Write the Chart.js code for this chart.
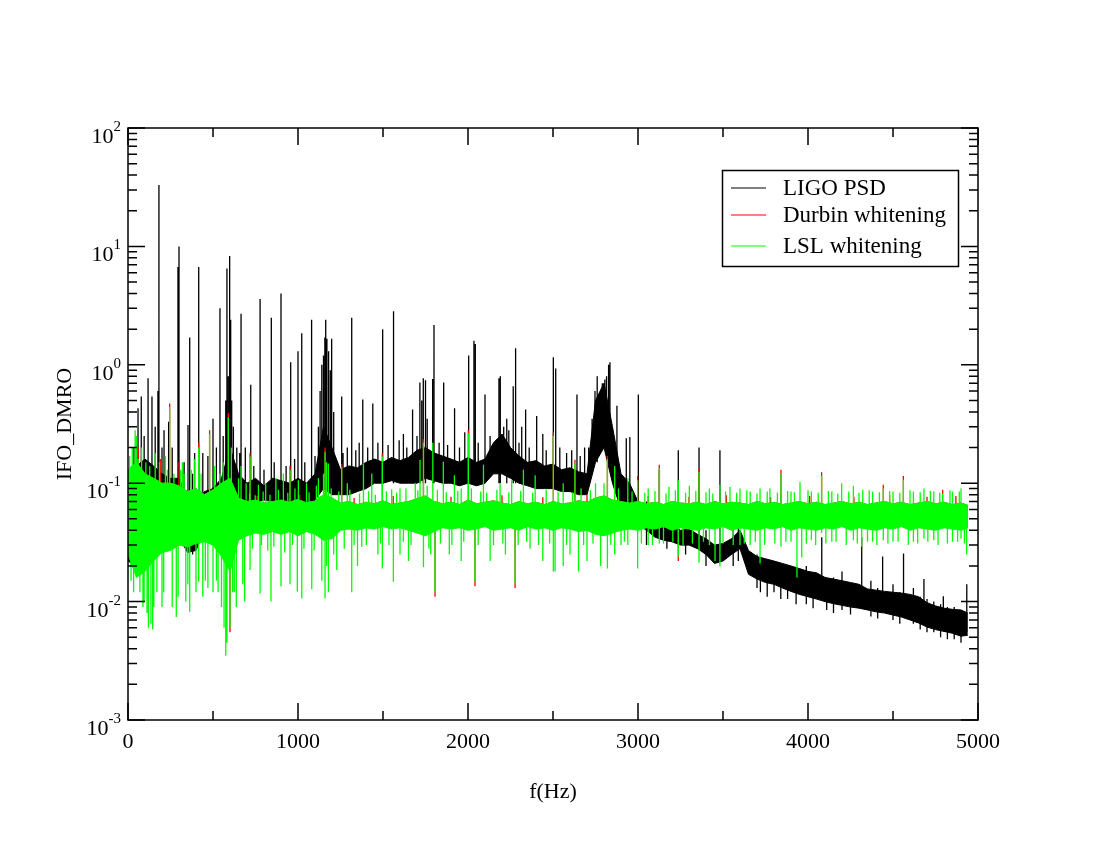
<!DOCTYPE html>
<html>
<head>
<meta charset="utf-8">
<script src="https://cdn.jsdelivr.net/npm/chart.js@4.4.1/dist/chart.umd.min.js"></script>
<style>
  html, body { margin: 0; padding: 0; background: #fff; }
  #wrap { width: 1100px; height: 850px; }
</style>
</head>
<body>
<div id="wrap"><canvas id="psd"></canvas></div>
<script>
// frequency grid (Hz) for the noise bands
const bandFreqs = [
  0, 50, 100, 150, 200, 250, 300, 350, 400, 450,
  500, 550, 600, 650, 700, 750, 800, 850, 900, 950,
  1000, 1050, 1100, 1150, 1200, 1250, 1300, 1350, 1400, 1450,
  1500, 1550, 1600, 1650, 1700, 1750, 1800, 1850, 1900, 1950,
  2000, 2050, 2100, 2150, 2200, 2250, 2300, 2350, 2400, 2450,
  2500, 2550, 2600, 2650, 2700, 2750, 2800, 2850, 2900, 2950,
  3000, 3050, 3100, 3150, 3200, 3250, 3300, 3350, 3400, 3450,
  3500, 3550, 3600, 3650, 3700, 3750, 3800, 3850, 3900, 3950,
  4000, 4050, 4100, 4150, 4200, 4250, 4300, 4350, 4400, 4450,
  4500, 4550, 4600, 4650, 4700, 4750, 4800, 4850, 4900, 4940
];

// LIGO PSD band (top / bottom of the noise)
const ligoUpper = [
  0.08, 0.14, 0.16, 0.14, 0.12, 0.11, 0.11, 0.075, 0.07, 0.085,
  0.09, 0.11, 0.2, 0.12, 0.1, 0.11, 0.095, 0.11, 0.105, 0.1,
  0.11, 0.1, 0.12, 0.3, 0.2, 0.13, 0.14, 0.135, 0.15, 0.16,
  0.15, 0.165, 0.155, 0.165, 0.19, 0.2, 0.18, 0.17, 0.16, 0.15,
  0.165, 0.15, 0.16, 0.22, 0.26, 0.2, 0.17, 0.15, 0.155, 0.14,
  0.145, 0.13, 0.135, 0.125, 0.12, 0.5, 0.7, 0.3, 0.12, 0.1,
  0.07, 0.055, 0.05, 0.048, 0.045, 0.04, 0.041, 0.037, 0.034, 0.03,
  0.031, 0.034, 0.04, 0.027, 0.024, 0.023, 0.022, 0.021, 0.02, 0.019,
  0.018, 0.0175, 0.016, 0.0155, 0.015, 0.0145, 0.014, 0.0128, 0.0125, 0.0122,
  0.012, 0.0118, 0.0115, 0.011, 0.0098, 0.0092, 0.0088, 0.0086, 0.0085, 0.008
];
const ligoLower = [
  0.022, 0.02, 0.02, 0.028, 0.035, 0.04, 0.035, 0.026, 0.027, 0.04,
  0.045, 0.045, 0.06, 0.05, 0.07, 0.07, 0.072, 0.07, 0.072, 0.07,
  0.072, 0.07, 0.072, 0.09, 0.08, 0.08, 0.08, 0.085, 0.09, 0.1,
  0.1, 0.105, 0.1, 0.1, 0.1, 0.11, 0.105, 0.1, 0.1, 0.095,
  0.1, 0.095, 0.1, 0.12, 0.12, 0.11, 0.1, 0.095, 0.09, 0.09,
  0.09, 0.085, 0.085, 0.08, 0.08, 0.15, 0.2, 0.1, 0.06, 0.055,
  0.045, 0.04, 0.035, 0.033, 0.032, 0.03, 0.03, 0.028, 0.025, 0.021,
  0.022, 0.025, 0.028, 0.017, 0.0155, 0.0145, 0.014, 0.013, 0.0122, 0.0115,
  0.011, 0.0105, 0.01, 0.0096, 0.0093, 0.009, 0.0088, 0.0085, 0.0082, 0.008,
  0.0077, 0.0074, 0.007, 0.0066, 0.0061, 0.0058, 0.0056, 0.0054, 0.0051, 0.0052
];

// Durbin whitening band (almost entirely under the LSL band)
const durbinUpper = [
  0.13, 0.15, 0.12, 0.11, 0.1, 0.1, 0.095, 0.085, 0.09, 0.08,
  0.088, 0.1, 0.11, 0.075, 0.07, 0.072, 0.068, 0.07, 0.072, 0.069,
  0.073, 0.068, 0.07, 0.08, 0.075, 0.068, 0.07, 0.066, 0.069, 0.067,
  0.071, 0.066, 0.068, 0.07, 0.074, 0.078, 0.07, 0.067, 0.069, 0.066,
  0.072, 0.067, 0.069, 0.071, 0.068, 0.066, 0.07, 0.067, 0.069, 0.066,
  0.07, 0.067, 0.068, 0.071, 0.069, 0.075, 0.078, 0.072, 0.07, 0.068,
  0.07, 0.067, 0.069, 0.066, 0.07, 0.068, 0.067, 0.069, 0.066, 0.07,
  0.067, 0.069, 0.068, 0.066, 0.07, 0.067, 0.069, 0.066, 0.068, 0.07,
  0.067, 0.069, 0.066, 0.068, 0.07, 0.067, 0.069, 0.066, 0.068, 0.07,
  0.067, 0.069, 0.066, 0.068, 0.07, 0.067, 0.069, 0.066, 0.068, 0.065
];
const durbinLower = [
  0.026, 0.017, 0.019, 0.023, 0.027, 0.028, 0.031, 0.03, 0.032, 0.033,
  0.031, 0.025, 0.019, 0.034, 0.037, 0.039, 0.038, 0.04, 0.038, 0.04,
  0.037, 0.04, 0.038, 0.034, 0.035, 0.041, 0.042, 0.041, 0.043, 0.042,
  0.044, 0.042, 0.043, 0.041, 0.039, 0.037, 0.04, 0.043, 0.042, 0.043,
  0.041, 0.042, 0.044, 0.041, 0.042, 0.043, 0.041, 0.044, 0.042, 0.043,
  0.041, 0.043, 0.042, 0.04, 0.041, 0.038, 0.037, 0.039, 0.041, 0.042,
  0.041, 0.043, 0.042, 0.044, 0.041, 0.043, 0.042, 0.041, 0.043, 0.042,
  0.044, 0.041, 0.043, 0.042, 0.041, 0.043, 0.042, 0.044, 0.041, 0.043,
  0.042, 0.041, 0.043, 0.042, 0.044, 0.041, 0.043, 0.042, 0.041, 0.043,
  0.042, 0.044, 0.041, 0.043, 0.042, 0.041, 0.043, 0.042, 0.041, 0.043
];

// LSL whitening band
const lslUpper = [
  0.13, 0.15, 0.12, 0.11, 0.1, 0.1, 0.095, 0.085, 0.09, 0.08,
  0.088, 0.1, 0.11, 0.075, 0.07, 0.072, 0.068, 0.07, 0.072, 0.069,
  0.073, 0.068, 0.07, 0.08, 0.075, 0.068, 0.07, 0.066, 0.069, 0.067,
  0.071, 0.066, 0.068, 0.07, 0.074, 0.078, 0.07, 0.067, 0.069, 0.066,
  0.072, 0.067, 0.069, 0.071, 0.068, 0.066, 0.07, 0.067, 0.069, 0.066,
  0.07, 0.067, 0.068, 0.071, 0.069, 0.075, 0.078, 0.072, 0.07, 0.068,
  0.07, 0.067, 0.069, 0.066, 0.07, 0.068, 0.067, 0.069, 0.066, 0.07,
  0.067, 0.069, 0.068, 0.066, 0.07, 0.067, 0.069, 0.066, 0.068, 0.07,
  0.067, 0.069, 0.066, 0.068, 0.07, 0.067, 0.069, 0.066, 0.068, 0.07,
  0.067, 0.069, 0.066, 0.068, 0.07, 0.067, 0.069, 0.066, 0.068, 0.065
];
const lslLower = [
  0.025, 0.016, 0.018, 0.022, 0.026, 0.027, 0.03, 0.029, 0.031, 0.032,
  0.03, 0.024, 0.018, 0.033, 0.036, 0.038, 0.037, 0.039, 0.037, 0.039,
  0.036, 0.039, 0.037, 0.033, 0.034, 0.04, 0.041, 0.04, 0.042, 0.041,
  0.043, 0.041, 0.042, 0.04, 0.038, 0.036, 0.039, 0.042, 0.041, 0.042,
  0.04, 0.041, 0.043, 0.04, 0.041, 0.042, 0.04, 0.043, 0.041, 0.042,
  0.04, 0.042, 0.041, 0.039, 0.04, 0.037, 0.036, 0.038, 0.04, 0.041,
  0.04, 0.042, 0.041, 0.043, 0.04, 0.042, 0.041, 0.04, 0.042, 0.041,
  0.043, 0.04, 0.042, 0.041, 0.04, 0.042, 0.041, 0.043, 0.04, 0.042,
  0.041, 0.04, 0.042, 0.041, 0.043, 0.04, 0.042, 0.041, 0.04, 0.042,
  0.041, 0.043, 0.04, 0.042, 0.041, 0.04, 0.042, 0.041, 0.04, 0.042
];

// narrow lines: [frequency, low, high]
const ligoSpikes = [
  [20, 0.02, 0.12], [35, 0.02, 0.2], [59, 0.08, 0.43], [78, 0.08, 0.54], [95, 0.03, 0.25],
  [118, 0.08, 0.77], [141, 0.08, 0.54], [160, 0.05, 0.3], [176, 0.08, 0.6], [182, 0.06, 33],
  [200, 0.05, 0.2], [212, 0.08, 0.28], [239, 0.08, 0.33], [260, 0.05, 0.2], [294, 0.07, 6.7],
  [300, 0.07, 10], [330, 0.04, 0.15], [353, 0.05, 0.31], [363, 0.05, 1.7], [380, 0.025, 0.12],
  [392, 0.05, 0.18], [416, 0.05, 6.7], [440, 0.04, 0.18], [470, 0.05, 0.17], [500, 0.06, 0.35],
  [520, 0.05, 0.2], [541, 0.06, 3.0], [560, 0.05, 0.25], [575, 0.06, 0.5], [582, 0.08, 6.5],
  [590, 0.08, 0.8], [598, 0.08, 8.3], [604, 0.08, 2.4], [610, 0.06, 0.5], [620, 0.06, 0.3],
  [640, 0.06, 0.2], [657, 0.07, 0.18], [665, 0.07, 2.7], [690, 0.06, 0.2], [722, 0.07, 0.68],
  [740, 0.09, 0.14], [777, 0.07, 3.6], [800, 0.09, 0.13], [843, 0.07, 2.5], [860, 0.09, 0.15],
  [900, 0.07, 4.0], [930, 0.09, 0.14], [957, 0.07, 1.05], [980, 0.09, 0.16], [1000, 0.07, 1.3],
  [1022, 0.07, 1.85], [1040, 0.09, 0.15], [1080, 0.07, 2.4], [1100, 0.1, 0.17], [1120, 0.1, 0.3],
  [1130, 0.1, 0.6], [1140, 0.1, 1.0], [1150, 0.1, 1.2], [1158, 0.1, 1.7], [1163, 0.1, 2.4],
  [1170, 0.1, 1.66], [1180, 0.1, 1.3], [1190, 0.1, 0.9], [1198, 0.1, 1.66], [1210, 0.1, 0.4],
  [1257, 0.09, 0.54], [1265, 0.12, 0.18], [1290, 0.12, 0.2], [1316, 0.09, 2.5], [1340, 0.12, 0.19],
  [1360, 0.12, 0.22], [1381, 0.1, 0.51], [1410, 0.13, 0.2], [1440, 0.1, 0.47], [1470, 0.13, 0.22],
  [1498, 0.1, 2.0], [1530, 0.14, 0.21], [1562, 0.1, 2.84], [1595, 0.14, 0.23], [1620, 0.1, 0.26],
  [1640, 0.14, 0.2], [1674, 0.1, 0.42], [1700, 0.14, 0.25], [1717, 0.1, 0.71], [1728, 0.14, 0.5],
  [1737, 0.1, 0.77], [1750, 0.1, 0.74], [1760, 0.14, 0.35], [1792, 0.1, 0.76], [1800, 0.1, 2.17],
  [1830, 0.14, 0.22], [1857, 0.1, 0.71], [1880, 0.14, 0.21], [1921, 0.1, 0.43], [1950, 0.13, 0.2],
  [1981, 0.1, 0.27], [2004, 0.1, 1.2], [2035, 0.1, 1.6], [2043, 0.1, 1.5], [2060, 0.13, 0.22],
  [2100, 0.1, 0.56], [2130, 0.14, 0.25], [2182, 0.1, 0.77], [2190, 0.1, 0.8], [2210, 0.15, 0.3],
  [2228, 0.1, 0.35], [2240, 0.15, 0.28], [2266, 0.1, 0.66], [2280, 0.1, 1.38], [2300, 0.13, 0.22],
  [2316, 0.1, 0.3], [2339, 0.1, 0.42], [2360, 0.13, 0.2], [2404, 0.1, 0.37], [2440, 0.1, 0.26],
  [2460, 0.12, 0.19], [2502, 0.1, 1.16], [2516, 0.1, 0.93], [2540, 0.12, 0.2], [2580, 0.11, 0.18],
  [2610, 0.11, 0.19], [2641, 0.09, 0.56], [2660, 0.11, 0.17], [2686, 0.09, 0.2], [2710, 0.11, 0.2],
  [2730, 0.12, 0.35], [2747, 0.15, 0.6], [2760, 0.15, 0.8], [2790, 0.3, 0.7], [2805, 0.3, 0.75],
  [2815, 0.3, 0.8], [2827, 0.2, 1.0], [2835, 0.2, 1.05], [2876, 0.08, 0.45], [2931, 0.06, 0.24],
  [2952, 0.06, 0.245], [3002, 0.05, 0.56], [3050, 0.03, 0.07], [3126, 0.04, 0.13], [3170, 0.028, 0.05],
  [3237, 0.035, 0.19], [3280, 0.025, 0.045], [3359, 0.03, 0.2], [3400, 0.02, 0.04], [3482, 0.025, 0.19],
  [3560, 0.02, 0.05], [3590, 0.022, 0.055], [3700, 0.013, 0.025], [3720, 0.012, 0.02], [3760, 0.011, 0.018],
  [3800, 0.012, 0.022], [3840, 0.0105, 0.018], [3880, 0.0105, 0.02], [3930, 0.0095, 0.017], [3990, 0.0095, 0.02],
  [4030, 0.0088, 0.016], [4081, 0.011, 0.035], [4110, 0.0085, 0.015], [4150, 0.008, 0.016], [4200, 0.0085, 0.018],
  [4250, 0.0078, 0.014], [4316, 0.0095, 0.035], [4370, 0.0075, 0.015], [4410, 0.0072, 0.013], [4439, 0.009, 0.024],
  [4500, 0.007, 0.014], [4540, 0.0065, 0.012], [4562, 0.008, 0.0255], [4620, 0.0065, 0.013], [4660, 0.0058, 0.011],
  [4682, 0.007, 0.0155], [4700, 0.0055, 0.0105], [4740, 0.0055, 0.01], [4780, 0.005, 0.0095], [4796, 0.006, 0.0111],
  [4820, 0.0048, 0.009], [4860, 0.0048, 0.009], [4900, 0.0045, 0.0085], [4934, 0.0055, 0.014]
];

const durbinSpikes = [
  [60, 0.05, 0.2], [190, 0.05, 0.16], [245, 0.05, 0.47], [300, 0.05, 0.15], [416, 0.05, 0.22],
  [480, 0.05, 0.28], [590, 0.05, 0.39], [600, 0.0055, 0.05], [718, 0.05, 0.18], [760, 0.06, 0.078],
  [953, 0.05, 0.14], [1010, 0.06, 0.08], [1159, 0.05, 0.2], [1257, 0.05, 0.145], [1330, 0.06, 0.075],
  [1496, 0.05, 0.18], [1560, 0.06, 0.078], [1738, 0.05, 0.235], [1806, 0.011, 0.05], [1900, 0.06, 0.077],
  [2002, 0.05, 0.28], [2041, 0.0135, 0.05], [2200, 0.06, 0.079], [2277, 0.013, 0.05], [2440, 0.06, 0.076],
  [2502, 0.05, 0.27], [2629, 0.05, 0.158], [2700, 0.06, 0.08], [2820, 0.05, 0.17], [2998, 0.05, 0.115],
  [3060, 0.06, 0.078], [3125, 0.05, 0.143], [3237, 0.022, 0.05], [3300, 0.06, 0.077], [3359, 0.05, 0.134],
  [3520, 0.06, 0.079], [3780, 0.06, 0.076], [3841, 0.05, 0.13], [4010, 0.06, 0.078], [4080, 0.05, 0.124],
  [4270, 0.06, 0.077], [4443, 0.05, 0.097], [4480, 0.06, 0.079], [4561, 0.05, 0.115], [4700, 0.06, 0.077],
  [4792, 0.05, 0.088], [4870, 0.06, 0.078]
];

const lslSpikes = [
  [10, 0.05, 0.17], [18, 0.015, 0.05], [25, 0.05, 0.2], [33, 0.012, 0.05], [42, 0.05, 0.28],
  [50, 0.05, 0.25], [60, 0.05, 0.16], [70, 0.012, 0.05], [80, 0.05, 0.2], [88, 0.009, 0.05],
  [95, 0.01, 0.05], [105, 0.05, 0.15], [112, 0.008, 0.05], [120, 0.006, 0.05], [128, 0.05, 0.14],
  [135, 0.0065, 0.05], [145, 0.0058, 0.05], [152, 0.009, 0.05], [160, 0.05, 0.18], [170, 0.012, 0.05],
  [185, 0.05, 0.15], [200, 0.009, 0.05], [210, 0.012, 0.05], [220, 0.05, 0.17], [232, 0.05, 0.13],
  [245, 0.05, 0.44], [260, 0.009, 0.05], [270, 0.05, 0.12], [284, 0.0074, 0.05], [295, 0.011, 0.05],
  [310, 0.05, 0.13], [320, 0.05, 0.15], [330, 0.05, 0.12], [340, 0.01, 0.05], [352, 0.014, 0.05],
  [363, 0.0082, 0.05], [372, 0.05, 0.13], [390, 0.05, 0.16], [400, 0.012, 0.05], [416, 0.0147, 0.2],
  [430, 0.05, 0.12], [440, 0.011, 0.05], [455, 0.015, 0.05], [470, 0.013, 0.05], [480, 0.05, 0.26],
  [500, 0.012, 0.05], [510, 0.05, 0.14], [520, 0.015, 0.05], [530, 0.012, 0.05], [540, 0.05, 0.12],
  [550, 0.009, 0.05], [560, 0.05, 0.15], [565, 0.006, 0.05], [575, 0.0035, 0.05], [582, 0.0045, 0.06],
  [590, 0.05, 0.36], [600, 0.006, 0.05], [608, 0.05, 0.2], [615, 0.012, 0.05], [625, 0.012, 0.05],
  [637, 0.009, 0.05], [650, 0.05, 0.11], [665, 0.05, 0.14], [675, 0.014, 0.05], [686, 0.01, 0.05],
  [695, 0.05, 0.1], [718, 0.0185, 0.168], [767, 0.05, 0.097], [777, 0.0117, 0.05], [810, 0.05, 0.1],
  [841, 0.01, 0.05], [870, 0.05, 0.11], [900, 0.0135, 0.05], [914, 0.05, 0.121], [953, 0.014, 0.13],
  [996, 0.0122, 0.05], [1002, 0.05, 0.106], [1022, 0.0106, 0.05], [1050, 0.05, 0.1], [1081, 0.0127, 0.05],
  [1120, 0.05, 0.11], [1140, 0.015, 0.05], [1150, 0.05, 0.12], [1159, 0.0106, 0.184], [1168, 0.02, 0.15],
  [1179, 0.012, 0.147], [1228, 0.0185, 0.05], [1257, 0.05, 0.137], [1290, 0.05, 0.1], [1316, 0.012, 0.05],
  [1350, 0.02, 0.05], [1375, 0.029, 0.05], [1385, 0.05, 0.147], [1434, 0.05, 0.121], [1470, 0.025, 0.05],
  [1496, 0.019, 0.168], [1551, 0.05, 0.089], [1561, 0.0147, 0.05], [1600, 0.025, 0.09], [1650, 0.022, 0.05],
  [1690, 0.05, 0.1], [1718, 0.05, 0.157], [1738, 0.0196, 0.22], [1781, 0.025, 0.05], [1793, 0.05, 0.22],
  [1806, 0.012, 0.05], [1855, 0.05, 0.152], [1890, 0.025, 0.05], [1920, 0.05, 0.117], [1960, 0.022, 0.09],
  [2002, 0.05, 0.264], [2041, 0.0147, 0.05], [2091, 0.05, 0.143], [2130, 0.022, 0.05], [2189, 0.05, 0.1],
  [2220, 0.025, 0.05], [2257, 0.05, 0.106], [2277, 0.0142, 0.05], [2326, 0.05, 0.13], [2365, 0.028, 0.05],
  [2395, 0.05, 0.117], [2440, 0.022, 0.05], [2502, 0.018, 0.25], [2512, 0.018, 0.05], [2560, 0.02, 0.1],
  [2600, 0.025, 0.05], [2629, 0.05, 0.148], [2650, 0.018, 0.05], [2700, 0.022, 0.05], [2750, 0.05, 0.1],
  [2780, 0.02, 0.05], [2820, 0.019, 0.16], [2863, 0.025, 0.14], [2900, 0.03, 0.05], [2940, 0.03, 0.11],
  [2998, 0.019, 0.106], [3060, 0.03, 0.09], [3125, 0.031, 0.134], [3182, 0.05, 0.093], [3237, 0.024, 0.106],
  [3302, 0.05, 0.095], [3359, 0.0213, 0.125], [3420, 0.03, 0.09], [3453, 0.022, 0.05], [3482, 0.0198, 0.097],
  [3541, 0.05, 0.093], [3600, 0.03, 0.09], [3660, 0.03, 0.085], [3718, 0.021, 0.09], [3776, 0.05, 0.09],
  [3841, 0.029, 0.12], [3900, 0.032, 0.085], [3935, 0.016, 0.05], [3953, 0.05, 0.103], [3963, 0.0236, 0.05],
  [4020, 0.033, 0.085], [4080, 0.038, 0.115], [4140, 0.032, 0.085], [4198, 0.05, 0.1], [4267, 0.033, 0.095],
  [4316, 0.029, 0.05], [4322, 0.05, 0.088], [4380, 0.032, 0.085], [4443, 0.033, 0.09], [4500, 0.032, 0.085],
  [4561, 0.05, 0.107], [4620, 0.032, 0.085], [4682, 0.034, 0.09], [4740, 0.033, 0.085], [4792, 0.05, 0.082],
  [4850, 0.032, 0.085], [4900, 0.034, 0.09], [4933, 0.025, 0.05]
];

// short flecks that make the LSL band edge ragged: [frequency, low, high]
const lslFlecks = [
  [715, 0.06, 0.082], [732, 0.028, 0.05], [748, 0.06, 0.079], [785, 0.03, 0.05], [795, 0.06, 0.085],
  [822, 0.027, 0.05], [835, 0.06, 0.08], [858, 0.029, 0.05], [885, 0.06, 0.088], [922, 0.026, 0.05],
  [940, 0.06, 0.083], [968, 0.03, 0.05], [982, 0.06, 0.09], [1035, 0.028, 0.05], [1065, 0.06, 0.084],
  [1095, 0.027, 0.05], [1108, 0.06, 0.095], [1195, 0.06, 0.09], [1210, 0.025, 0.05], [1240, 0.06, 0.085],
  [1272, 0.028, 0.05], [1305, 0.06, 0.088], [1330, 0.03, 0.05], [1362, 0.06, 0.082], [1402, 0.03, 0.05],
  [1415, 0.06, 0.086], [1455, 0.06, 0.08], [1485, 0.031, 0.05], [1520, 0.06, 0.085], [1535, 0.03, 0.05],
  [1580, 0.06, 0.083], [1620, 0.032, 0.05], [1635, 0.06, 0.09], [1665, 0.03, 0.05], [1705, 0.06, 0.087],
  [1760, 0.06, 0.095], [1770, 0.028, 0.05], [1820, 0.06, 0.088], [1838, 0.031, 0.05], [1872, 0.06, 0.084],
  [1905, 0.03, 0.05], [1940, 0.06, 0.086], [1975, 0.032, 0.05], [2020, 0.06, 0.09], [2060, 0.03, 0.05],
  [2075, 0.06, 0.085], [2110, 0.06, 0.083], [2150, 0.03, 0.05], [2170, 0.06, 0.088], [2205, 0.031, 0.05],
  [2240, 0.06, 0.084], [2295, 0.03, 0.05], [2310, 0.06, 0.086], [2345, 0.032, 0.05], [2380, 0.06, 0.083],
  [2415, 0.03, 0.05], [2460, 0.06, 0.088], [2480, 0.031, 0.05], [2530, 0.06, 0.085], [2580, 0.03, 0.05],
  [2615, 0.06, 0.084], [2665, 0.06, 0.09], [2680, 0.03, 0.05], [2720, 0.06, 0.087], [2735, 0.031, 0.05],
  [2800, 0.06, 0.1], [2840, 0.03, 0.05], [2885, 0.06, 0.09], [2920, 0.032, 0.05], [2965, 0.06, 0.085],
  [3020, 0.031, 0.05], [3040, 0.06, 0.083], [3085, 0.03, 0.05], [3100, 0.06, 0.086], [3150, 0.031, 0.05],
  [3165, 0.06, 0.082], [3205, 0.032, 0.05], [3220, 0.06, 0.087], [3265, 0.03, 0.05], [3280, 0.06, 0.083],
  [3320, 0.031, 0.05], [3340, 0.06, 0.086], [3385, 0.032, 0.05], [3400, 0.06, 0.084], [3440, 0.06, 0.082],
  [3500, 0.031, 0.05], [3515, 0.06, 0.085], [3560, 0.03, 0.05], [3580, 0.06, 0.083], [3625, 0.031, 0.05],
  [3640, 0.06, 0.087], [3690, 0.032, 0.05], [3700, 0.06, 0.082], [3745, 0.03, 0.05], [3760, 0.06, 0.085],
  [3805, 0.031, 0.05], [3820, 0.06, 0.083], [3870, 0.032, 0.05], [3880, 0.06, 0.086], [3920, 0.06, 0.084],
  [3990, 0.031, 0.05], [4000, 0.06, 0.087], [4045, 0.03, 0.05], [4060, 0.06, 0.083], [4105, 0.031, 0.05],
  [4120, 0.06, 0.086], [4165, 0.032, 0.05], [4175, 0.06, 0.082], [4225, 0.03, 0.05], [4240, 0.06, 0.085],
  [4290, 0.031, 0.05], [4300, 0.06, 0.083], [4350, 0.032, 0.05], [4360, 0.06, 0.087], [4405, 0.03, 0.05],
  [4420, 0.06, 0.084], [4470, 0.031, 0.05], [4480, 0.06, 0.086], [4530, 0.032, 0.05], [4540, 0.06, 0.083],
  [4590, 0.03, 0.05], [4600, 0.06, 0.087], [4645, 0.031, 0.05], [4660, 0.06, 0.084], [4705, 0.032, 0.05],
  [4720, 0.06, 0.086], [4765, 0.03, 0.05], [4775, 0.06, 0.083], [4820, 0.031, 0.05], [4835, 0.06, 0.087],
  [4880, 0.032, 0.05], [4890, 0.06, 0.085], [4920, 0.031, 0.05]
];

const seriesNames = ['LIGO PSD', 'Durbin whitening', 'LSL whitening'];
const seriesColors = ['#000000', '#ff0000', '#00ff00'];
const xTickLabels = ['0', '1000', '2000', '3000', '4000', '5000'];
const yTickExponents = ['-3', '-2', '-1', '0', '1', '2'];

function bandPoints(values) {
  return bandFreqs.map((f, i) => ({ x: f, y: values[i] }));
}

function spikePoints(spikes) {
  return spikes.flatMap(([f, lo, hi]) => [{ x: f, y: lo }, { x: f, y: hi }, { x: f, y: null }]);
}

function lineSet(label, spikes, color, order) {
  return { label, data: spikePoints(spikes), borderColor: color,
    borderWidth: 1.3, pointRadius: 0, fill: false, spanGaps: false, order };
}

function bandDatasets(name, color, upper, lower, spikes, order) {
  return [
    { label: name, data: bandPoints(upper), borderColor: color, backgroundColor: color,
      borderWidth: 1, pointRadius: 0, fill: '+1', order },
    { label: name + ' low', data: bandPoints(lower), borderColor: color, backgroundColor: color,
      borderWidth: 1, pointRadius: 0, fill: false, order },
    lineSet(name + ' lines', spikes, color, order)
  ];
}

const serif = '"Liberation Serif", "DejaVu Serif", serif';

// frame, inward ticks, labels and legend in the xmgrace style
const graceFrame = {
  id: 'graceFrame',
  afterDraw(chart) {
    const { ctx, chartArea: a, scales: { x, y } } = chart;
    ctx.save();
    ctx.strokeStyle = '#000';
    ctx.fillStyle = '#000';
    ctx.lineWidth = 1.5;
    ctx.strokeRect(a.left, a.top, a.right - a.left, a.bottom - a.top);

    ctx.beginPath();
    for (let v = 0; v <= 5000; v += 500) {
      const px = x.getPixelForValue(v);
      const len = v % 1000 === 0 ? 17 : 9;
      ctx.moveTo(px, a.bottom); ctx.lineTo(px, a.bottom - len);
      ctx.moveTo(px, a.top); ctx.lineTo(px, a.top + len);
    }
    for (let e = -3; e <= 2; e++) {
      for (let m = 1; m <= 9; m++) {
        if (e === 2 && m > 1) break;
        const py = y.getPixelForValue(m * Math.pow(10, e));
        const len = m === 1 ? 17 : 9;
        ctx.moveTo(a.left, py); ctx.lineTo(a.left + len, py);
        ctx.moveTo(a.right, py); ctx.lineTo(a.right - len, py);
      }
    }
    ctx.stroke();

    ctx.font = '22px ' + serif;
    ctx.textAlign = 'center';
    ctx.textBaseline = 'alphabetic';
    xTickLabels.forEach(lbl => {
      ctx.fillText(lbl, x.getPixelForValue(Number(lbl)), a.bottom + 28);
    });

    yTickExponents.forEach(exp => {
      const py = y.getPixelForValue(Math.pow(10, Number(exp)));
      ctx.font = '15px ' + serif;
      ctx.textAlign = 'right';
      const supRight = a.left - 7;
      ctx.fillText(exp, supRight, py + 3);
      const supW = ctx.measureText(exp).width;
      ctx.font = '22px ' + serif;
      ctx.fillText('10', supRight - supW, py + 15);
    });

    ctx.font = '22px ' + serif;
    ctx.textAlign = 'center';
    ctx.fillText('f(Hz)', (a.left + a.right) / 2, a.bottom + 78);

    ctx.save();
    ctx.translate(65, (a.top + a.bottom) / 2);
    ctx.rotate(-Math.PI / 2);
    ctx.textBaseline = 'middle';
    ctx.fillText('IFO_DMRO', 0, 0);
    ctx.restore();

    // legend
    ctx.lineWidth = 1.5;
    ctx.strokeRect(722.5, 170.5, 236, 96);
    const rows = [188, 215, 246];
    ctx.font = '23px ' + serif;
    ctx.textAlign = 'left';
    ctx.textBaseline = 'middle';
    seriesNames.forEach((name, i) => {
      ctx.strokeStyle = seriesColors[i];
      ctx.lineWidth = 1.2;
      ctx.beginPath();
      ctx.moveTo(731, rows[i]); ctx.lineTo(766, rows[i]);
      ctx.stroke();
      ctx.fillStyle = '#000';
      ctx.fillText(name, 783, rows[i] + 1);
    });
    ctx.restore();
  }
};

new Chart(document.getElementById('psd'), {
  type: 'line',
  data: {
    datasets: [
      ...bandDatasets(seriesNames[0], seriesColors[0], ligoUpper, ligoLower, ligoSpikes, 3),
      ...bandDatasets(seriesNames[1], seriesColors[1], durbinUpper, durbinLower, durbinSpikes, 2),
      ...bandDatasets(seriesNames[2], seriesColors[2], lslUpper, lslLower, lslSpikes, 1),
      lineSet(seriesNames[2] + ' flecks', lslFlecks, seriesColors[2], 1)
    ]
  },
  options: {
    responsive: true,
    maintainAspectRatio: false,
    animation: false,
    layout: { padding: { left: 128, right: 122, top: 128, bottom: 130 } },
    elements: { line: { tension: 0 } },
    scales: {
      x: { type: 'linear', min: 0, max: 5000, display: false },
      y: { type: 'logarithmic', min: 0.001, max: 100, display: false }
    },
    plugins: {
      legend: { display: false },
      tooltip: { enabled: false }
    }
  },
  plugins: [graceFrame]
});
</script>
</body>
</html>
